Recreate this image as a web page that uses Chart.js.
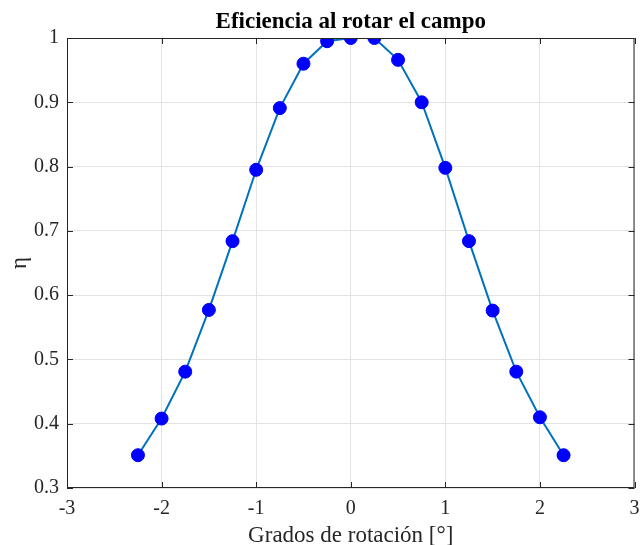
<!DOCTYPE html>
<html lang="es">
<head>
    <meta charset="UTF-8">
    <title>Eficiencia al rotar el campo</title>
    <script src="https://cdn.jsdelivr.net/npm/chart.js"></script>
    <style>
        body { margin: 0; background: #fff; }
        #wrap { width: 642px; height: 545px; position: relative; }
    </style>
</head>
<body>
    <div id="wrap"><canvas id="effChart"></canvas></div>

    <script>
        // Datos
        const grados = [-2.25, -2, -1.75, -1.5, -1.25, -1, -0.75, -0.5, -0.25, 0, 0.25, 0.5, 0.75, 1, 1.25, 1.5, 1.75, 2, 2.25];
        const eficiencia = [0.351, 0.408, 0.481, 0.577, 0.684, 0.795, 0.891, 0.960, 0.995, 1.0, 1.0, 0.966, 0.900, 0.798, 0.684, 0.576, 0.481, 0.410, 0.351];
        const xTicks = [-3, -2, -1, 0, 1, 2, 3];
        const yTicks = [0.3, 0.4, 0.5, 0.6, 0.7, 0.8, 0.9, 1];

        const serif = '"Liberation Serif", "Times New Roman", serif';
        const ink = '#262626';

        // caja y marcas hacia dentro, estilo MATLAB
        const boxPlugin = {
            id: 'box',
            afterDraw(chart) {
                const { ctx, chartArea: a, scales } = chart;
                ctx.save();
                ctx.strokeStyle = ink;
                ctx.lineWidth = 1;
                ctx.strokeRect(a.left + 0.5, a.top + 0.5, a.right - a.left - 1, a.bottom - a.top - 1);
                ctx.beginPath();
                xTicks.forEach(v => {
                    const px = Math.round(scales.x.getPixelForValue(v)) + 0.5;
                    ctx.moveTo(px, a.bottom); ctx.lineTo(px, a.bottom - 6);
                    ctx.moveTo(px, a.top); ctx.lineTo(px, a.top + 6);
                });
                yTicks.forEach(v => {
                    const py = Math.round(scales.y.getPixelForValue(v)) + 0.5;
                    ctx.moveTo(a.left, py); ctx.lineTo(a.left + 6, py);
                    ctx.moveTo(a.right, py); ctx.lineTo(a.right - 6, py);
                });
                ctx.stroke();
                ctx.restore();
            }
        };

        new Chart(document.getElementById('effChart'), {
            type: 'line',
            data: {
                datasets: [{
                    data: grados.map((g, i) => ({ x: g, y: eficiencia[i] })),
                    borderColor: '#0072BD',
                    borderWidth: 2,
                    pointRadius: 6.5,
                    pointBackgroundColor: '#0000FF',
                    pointBorderColor: '#0000FF',
                    pointBorderWidth: 1,
                    tension: 0,
                    fill: false
                }]
            },
            options: {
                responsive: true,
                maintainAspectRatio: false,
                animation: false,
                layout: { padding: { left: 0, right: 2, top: 0, bottom: 0 } },
                plugins: {
                    legend: { display: false },
                    tooltip: { enabled: false },
                    title: {
                        display: true,
                        fullSize: false,
                        text: 'Eficiencia al rotar el campo',
                        color: '#000',
                        font: { family: serif, size: 23, weight: 'bold', lineHeight: 1.2 },
                        padding: { top: 8.4, bottom: 2 }
                    }
                },
                scales: {
                    x: {
                        type: 'linear',
                        min: -3, max: 3,
                        afterBuildTicks: s => { s.ticks = xTicks.map(v => ({ value: v })); },
                        afterFit: s => { s.height = 57; s.paddingLeft = 0; s.paddingRight = 0; },
                        grid: { color: '#e3e3e3', drawTicks: false },
                        border: { display: false },
                        ticks: { color: ink, padding: 9, font: { family: serif, size: 20 } },
                        title: {
                            display: true,
                            text: 'Grados de rotación [°]',
                            color: ink,
                            padding: { top: 0, bottom: -5 },
                            font: { family: serif, size: 23 }
                        }
                    },
                    y: {
                        type: 'linear',
                        min: 0.3, max: 1,
                        afterBuildTicks: s => { s.ticks = yTicks.map(v => ({ value: v })); },
                        afterFit: s => { s.width = 67; s.paddingTop = 0; s.paddingBottom = 0; },
                        grid: { color: '#e3e3e3', drawTicks: false },
                        border: { display: false },
                        ticks: {
                            color: ink, padding: 8, font: { family: serif, size: 20 },
                            callback: v => String(v)
                        },
                        title: {
                            display: true,
                            text: 'η',
                            color: ink,
                            padding: { top: 6, bottom: 0 },
                            font: { family: serif, size: 23 }
                        }
                    }
                }
            },
            plugins: [boxPlugin]
        });
    </script>
</body>
</html>
